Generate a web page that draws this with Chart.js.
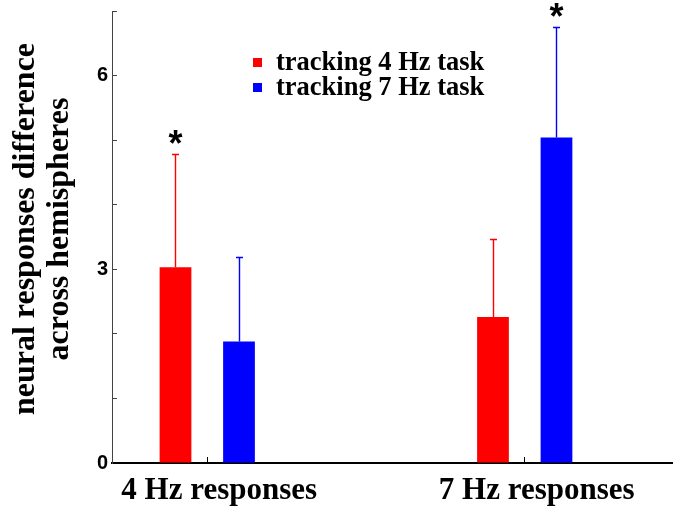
<!DOCTYPE html>
<html>
<head>
<meta charset="utf-8">
<script src="https://cdn.jsdelivr.net/npm/chart.js@4/dist/chart.umd.min.js"></script>
<style>
  body { margin: 0; background: #fff; }
  #wrap { width: 673px; height: 508px; }
</style>
</head>
<body>
<div id="wrap"><canvas id="myChart" width="673" height="508"></canvas></div>
<script>
var categories = ['4 Hz responses', '7 Hz responses'];
var seriesNames = ['tracking 4 Hz task', 'tracking 7 Hz task'];
var track4 = [3.03, 2.26];
var track7 = [1.88, 5.04];
var track4Err = [1.76, 1.21];
var track7Err = [1.31, 1.71];
var track4Sig = [true, false];
var track7Sig = [false, true];
var yTicks = [0, 1, 2, 3, 4, 5, 6, 7];
var yLabelled = [0, 3, 6];

var serif = "'Liberation Serif','Times New Roman',serif";
var sans = "'Liberation Sans',Arial,sans-serif";

var toPoints = function(vals) {
  return vals.map(function(v, i) { return {x: i + 1, y: v}; });
};

// one-sided error bars, caps and asterisks
var errorBars = {
  id: 'errorBars',
  afterDatasetsDraw: function(chart) {
    var ctx = chart.ctx;
    var y = chart.scales.y;
    chart.data.datasets.forEach(function(ds, d) {
      var meta = chart.getDatasetMeta(d);
      meta.data.forEach(function(bar, i) {
        var top = Math.round(y.getPixelForValue(ds.data[i].y + ds.err[i])) + 0.5;
        var bx = Math.round(bar.x) + 0.5;
        ctx.save();
        ctx.strokeStyle = ds.backgroundColor;
        ctx.lineWidth = 1.4;
        ctx.beginPath();
        ctx.moveTo(bx, bar.y);
        ctx.lineTo(bx, top);
        ctx.moveTo(bx - 3.5, top);
        ctx.lineTo(bx + 3.5, top);
        ctx.stroke();
        ctx.restore();
        if (ds.sig[i]) {
          ctx.save();
          ctx.fillStyle = '#000';
          ctx.font = 'bold 36px ' + sans;
          ctx.textAlign = 'center';
          ctx.textBaseline = 'alphabetic';
          ctx.fillText('*', bar.x, top + 1);
          ctx.restore();
        }
      });
    });
  }
};

// legend drawn inside the plot area
var innerLegend = {
  id: 'innerLegend',
  afterDraw: function(chart) {
    var ctx = chart.ctx;
    ctx.save();
    ctx.font = 'bold 26.5px ' + serif;
    ctx.textBaseline = 'middle';
    ctx.textAlign = 'left';
    chart.data.datasets.forEach(function(ds, d) {
      var cy = 63 + d * 25;
      ctx.fillStyle = ds.backgroundColor;
      ctx.fillRect(253, cy - 5, 9, 9);
      ctx.fillStyle = '#000';
      ctx.fillText(ds.label, 276, cy);
    });
    ctx.restore();
  }
};

var chart = new Chart(document.getElementById('myChart'), {
  type: 'bar',
  data: {
    datasets: [{
      label: seriesNames[0],
      data: toPoints(track4),
      err: track4Err,
      sig: track4Sig,
      backgroundColor: '#ff0000'
    }, {
      label: seriesNames[1],
      data: toPoints(track7),
      err: track7Err,
      sig: track7Sig,
      backgroundColor: '#0000ff'
    }]
  },
  options: {
    responsive: false,
    animation: false,
    devicePixelRatio: 1,
    categoryPercentage: 0.4,
    barPercentage: 0.5,
    layout: { padding: { top: 11, right: 0, left: 0, bottom: 0 } },
    plugins: {
      legend: { display: false },
      tooltip: { enabled: false }
    },
    scales: {
      x: {
        type: 'linear',
        min: 0.7,
        max: 2.467,
        offset: false,
        afterBuildTicks: function(scale) {
          scale.ticks = categories.map(function(c, i) { return {value: i + 1}; });
        },
        afterFit: function(scale) {
          scale.height = 45;
          scale.paddingLeft = 0;
          scale.paddingRight = 0;
        },
        grid: { drawOnChartArea: false, offset: false, tickLength: -6, color: '#000', lineWidth: 1 },
        border: { display: true, color: '#000', width: 2 },
        ticks: {
          color: '#000',
          padding: 15,
          labelOffset: 12,
          maxRotation: 0,
          autoSkip: false,
          font: { family: serif, size: 31, weight: 'bold' },
          callback: function(v) { return categories[v - 1] || ''; }
        }
      },
      y: {
        min: 0,
        max: 7,
        afterBuildTicks: function(scale) {
          scale.ticks = yTicks.map(function(t) { return {value: t}; });
        },
        afterFit: function(scale) {
          scale.width = 112;
          scale.paddingTop = 0;
          scale.paddingBottom = 0;
        },
        grid: { drawOnChartArea: false, tickLength: -5, color: '#444', lineWidth: 1 },
        border: { display: true, color: '#444', width: 1 },
        ticks: {
          color: '#000',
          padding: 9,
          font: { family: sans, size: 20, weight: 'bold' },
          callback: function(v) { return yLabelled.indexOf(v) >= 0 ? String(v) : ''; }
        },
        title: {
          display: true,
          // leading spaces nudge the centred title a little upward
          text: ['  neural responses difference', '  across hemispheres'],
          color: '#000',
          padding: { top: 9, bottom: 0 },
          font: { family: serif, size: 32, weight: 'bold', lineHeight: 1.06 }
        }
      }
    }
  },
  plugins: [errorBars, innerLegend]
});
</script>
</body>
</html>
